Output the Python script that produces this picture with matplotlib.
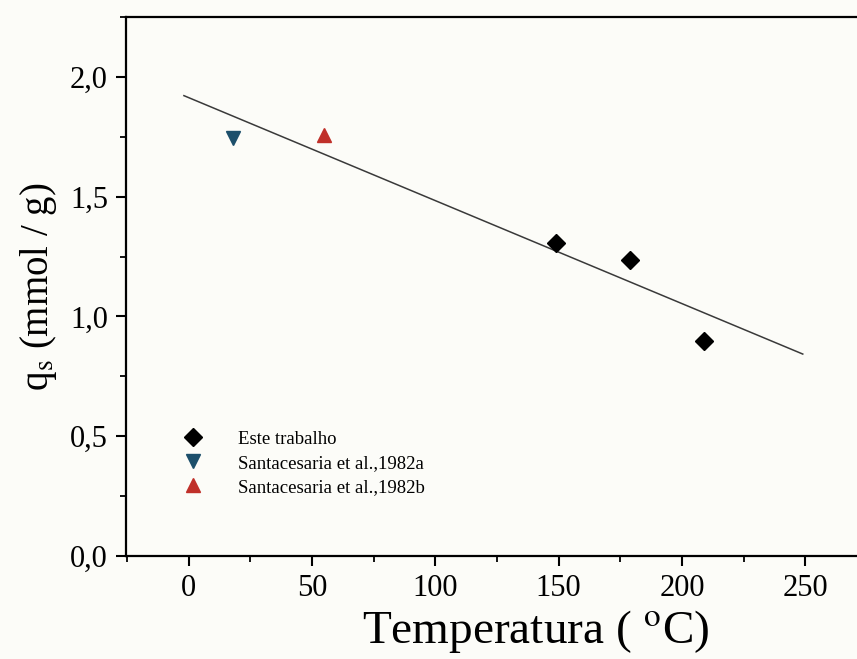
import matplotlib.pyplot as plt
import numpy as np
from matplotlib.ticker import MultipleLocator, FuncFormatter

plt.rcParams['font.family'] = ['Liberation Serif', 'DejaVu Serif']
plt.rcParams['mathtext.fontset'] = 'stix'

# dados
temp_trab = [149, 179, 209]
qs_trab = [1.307, 1.236, 0.898]
temp_a = [18]
qs_a = [1.745]
temp_b = [55]
qs_b = [1.758]
fit_range = [-2, 249]

fig = plt.figure(figsize=(8.57, 6.59), dpi=100, facecolor='#fcfcf8')
ax = fig.add_axes([0.147, 0.1563, 0.853, 0.8179])
ax.set_facecolor('#fcfcf8')

# reta ajustada a todos os pontos
todos_x = np.array(temp_trab + temp_a + temp_b, dtype=float)
todos_y = np.array(qs_trab + qs_a + qs_b)
coef = np.polyfit(todos_x, todos_y, 1)
xf = np.array(fit_range, dtype=float)
ax.plot(xf, np.polyval(coef, xf), color='#3a3a3a', lw=1.1)

ax.plot(temp_trab, qs_trab, 'D', color='black', ms=9, ls='none', label='Este trabalho')
ax.plot(temp_a, qs_a, 'v', color='#1c4f6b', ms=10, ls='none', label='Santacesaria et al.,1982a')
ax.plot(temp_b, qs_b, '^', color='#c0302a', ms=10, ls='none', label='Santacesaria et al.,1982b')

ax.set_xlim(-25.5, 271)
ax.set_ylim(0, 2.25)
ax.xaxis.set_major_locator(MultipleLocator(50))
ax.xaxis.set_minor_locator(MultipleLocator(25))
ax.yaxis.set_major_locator(MultipleLocator(0.5))
ax.yaxis.set_minor_locator(MultipleLocator(0.25))
ax.yaxis.set_major_formatter(FuncFormatter(lambda v, p: f"{v:.1f}".replace('.', ',')))

ax.spines['right'].set_visible(False)
for s in ['left', 'bottom', 'top']:
    ax.spines[s].set_linewidth(1.6)
ax.tick_params(which='major', direction='out', length=7, width=1.5, labelsize=22, pad=6)
ax.tick_params(which='minor', direction='out', length=4, width=1.3)
ax.tick_params(top=False, right=False)

ax.set_xlabel('Temperatura ( $^{\\mathrm{o}}$C)', fontsize=34)
ax.xaxis.set_label_coords(0.561, -0.097)
ax.set_ylabel('q$_{\\mathrm{s}}$ (mmol / g)', fontsize=28, labelpad=8)

ax.legend(loc='lower left', bbox_to_anchor=(0.05, 0.08), frameon=False,
          fontsize=13.5, handletextpad=1.6, labelspacing=0.38, handlelength=1.5)

fig.savefig('out.png', dpi=100, facecolor=fig.get_facecolor())
